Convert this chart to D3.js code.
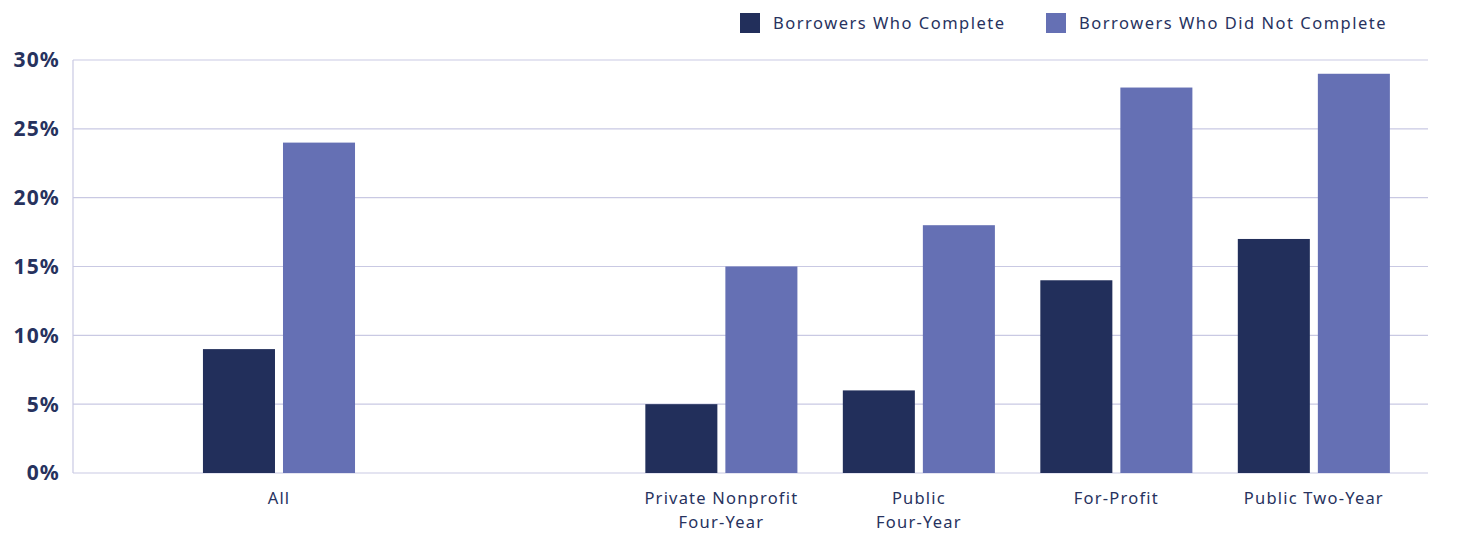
<!DOCTYPE html>
<html>
<head>
<meta charset="utf-8">
<script src="https://cdn.jsdelivr.net/npm/d3@7"></script>
<style>
  body { margin: 0; background: #fff; }
  text { font-family: "Noto Sans", "Open Sans", sans-serif; }
</style>
</head>
<body>
<div id="chart"></div>
<script>
// chart data
const categories = ["All", "Private Nonprofit\nFour-Year", "Public\nFour-Year", "For-Profit", "Public Two-Year"];
const completed = [9, 5, 6, 14, 17];
const notCompleted = [24, 15, 18, 28, 29];
const seriesNames = ["Borrowers Who Complete", "Borrowers Who Did Not Complete"];
const yTicks = [0, 5, 10, 15, 20, 25, 30];

const colors = ["#222f5b", "#6570b4"];
const textColor = "#27325e";

const width = 1461, height = 534;
const margin = {top: 60, right: 33, bottom: 61, left: 73};
const innerW = width - margin.left - margin.right,
      innerH = height - margin.top - margin.bottom;

// "All" sits apart from the sector groups, so slots are spread with an extra gap
const gapAfterAll = 1.24;
const slot = categories.map((c, i) => i === 0 ? 0 : i + gapAfterAll);

const svg = d3.select("#chart").append("svg")
    .attr("width", width)
    .attr("height", height);

const g = svg.append("g")
    .attr("transform", `translate(${margin.left},${margin.top})`);

const x = d3.scaleLinear()
    .domain([-1.043, 5.818])
    .range([0, innerW]);
const step = x(1) - x(0);

const x1 = d3.scaleBand()
    .domain([0, 1])
    .range([-step * 0.385, step * 0.385])
    .paddingInner(0.1);

const y = d3.scaleLinear()
    .domain([0, 30])
    .range([innerH, 0]);

// gridlines
g.append("g")
  .selectAll("line")
  .data(yTicks)
  .join("line")
    .attr("x1", 0)
    .attr("x2", innerW)
    .attr("y1", d => y(d))
    .attr("y2", d => y(d))
    .attr("stroke", "#c9c9e3")
    .attr("stroke-width", 1.2);

g.append("line")
    .attr("x1", 0).attr("x2", 0)
    .attr("y1", 0).attr("y2", innerH)
    .attr("stroke", "#c9c9e3")
    .attr("stroke-width", 1.2);

// y tick labels
g.append("g")
  .selectAll("text")
  .data(yTicks)
  .join("text")
    .attr("x", -13)
    .attr("y", d => y(d))
    .attr("dy", "0.35em")
    .attr("text-anchor", "end")
    .attr("fill", textColor)
    .style("font-size", "21px")
    .style("font-weight", "bold")
    .style("letter-spacing", "1.2px")
    .text(d => d + "%");

// bars
const rows = categories.map((c, i) => ({cat: c, pos: slot[i], vals: [completed[i], notCompleted[i]]}));

const groups = g.selectAll(".grp")
  .data(rows)
  .join("g")
    .attr("class", "grp")
    .attr("transform", d => `translate(${x(d.pos)},0)`);

groups.selectAll("rect")
  .data(d => d.vals.map((v, k) => ({k, v})))
  .join("rect")
    .attr("x", d => x1(d.k))
    .attr("y", d => y(d.v))
    .attr("width", x1.bandwidth())
    .attr("height", d => innerH - y(d.v))
    .attr("fill", d => colors[d.k]);

// x labels
groups.append("text")
    .attr("y", innerH + 31)
    .attr("text-anchor", "middle")
    .attr("fill", textColor)
    .style("font-size", "16.5px")
    .style("letter-spacing", "1.2px")
  .selectAll("tspan")
  .data(d => d.cat.split("\n"))
  .join("tspan")
    .attr("x", 0)
    .attr("dy", (d, i) => i === 0 ? 0 : 24)
    .text(d => d);

// legend
const legendX = [740, 1046];
const legend = svg.append("g")
  .selectAll("g")
  .data(seriesNames)
  .join("g")
    .attr("transform", (d, i) => `translate(${legendX[i]},13)`);

legend.append("rect")
    .attr("width", 20)
    .attr("height", 20)
    .attr("fill", (d, i) => colors[i]);

legend.append("text")
    .attr("x", 33)
    .attr("y", 10)
    .attr("dy", "0.35em")
    .attr("fill", textColor)
    .style("font-size", "16.5px")
    .style("letter-spacing", "1.5px")
    .text(d => d);
</script>
</body>
</html>
